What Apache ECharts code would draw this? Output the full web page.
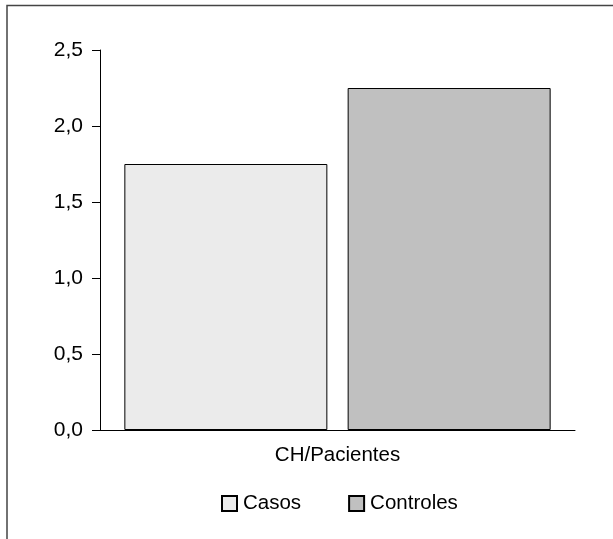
<!DOCTYPE html>
<html><head><meta charset="utf-8">
<script src="https://cdn.jsdelivr.net/npm/echarts@6/dist/echarts.min.js"></script>
<style>html,body{margin:0;padding:0;background:#fff}#c{width:613px;height:539px}</style>
</head><body><div id="c"></div>
<script>
const categories = ['CH/Pacientes'];
const seriesNames = ['Casos', 'Controles'];
const casos = [1.75];
const controles = [2.25];
const yTicks = [0, 0.5, 1.0, 1.5, 2.0, 2.5];

const chart = echarts.init(document.getElementById('c'), null, {renderer: 'canvas'});
const font = 'Liberation Sans, Arial, sans-serif';
chart.setOption({
  animation: false,
  backgroundColor: '#fff',
  graphic: [
    {type: 'polyline', shape: {points: [[7, 539], [7, 5.5], [613, 5.5]]},
     style: {stroke: '#444', lineWidth: 1.5, fill: null}}
  ],
  grid: {left: 100, right: 38, top: 50, bottom: 109},
  legend: {
    data: seriesNames, left: 221, top: 493, padding: 0, itemWidth: 15, itemHeight: 15,
    itemGap: 47, icon: 'rect',
    textStyle: {fontFamily: font, fontSize: 20.5, color: '#000', padding: [0, 0, 0, 1]}
  },
  xAxis: {
    type: 'category', data: categories,
    axisLine: {lineStyle: {color: '#000', width: 1}},
    axisTick: {length: 6, lineStyle: {color: '#000'}},
    axisLabel: {fontFamily: font, fontSize: 20.5, color: '#000', margin: 15}
  },
  yAxis: {
    type: 'value', min: 0, max: 2.5, interval: 0.5,
    splitLine: {show: false},
    axisLine: {show: true, lineStyle: {color: '#000', width: 1}},
    axisTick: {show: true, length: 8, lineStyle: {color: '#000'}},
    axisLabel: {fontFamily: font, fontSize: 21, color: '#000', margin: 17,
      formatter: v => v.toFixed(1).replace('.', ',')}
  },
  series: [
    {name: seriesNames[0], type: 'bar', data: casos, barWidth: 203, barGap: '10%',
     itemStyle: {color: '#ebebeb', borderColor: '#000', borderWidth: 1}},
    {name: seriesNames[1], type: 'bar', data: controles, barWidth: 203,
     itemStyle: {color: '#c0c0c0', borderColor: '#000', borderWidth: 1}}
  ]
});
</script></body></html>
